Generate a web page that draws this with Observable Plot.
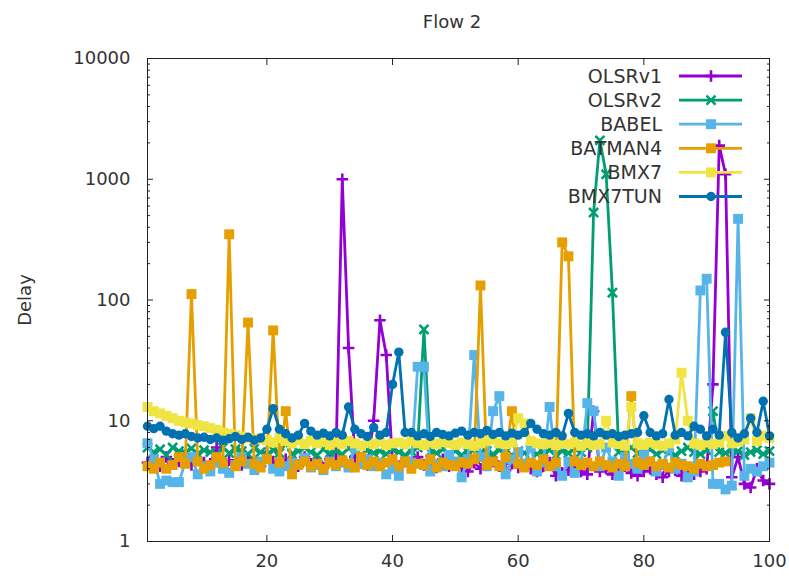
<!DOCTYPE html>
<html>
<head>
<meta charset="utf-8">
<script src="https://cdn.jsdelivr.net/npm/d3@7"></script>
<script src="https://cdn.jsdelivr.net/npm/@observablehq/plot@0.6"></script>
<style>
  body { margin: 0; background: #fff; }
  #chart svg { display: block; font-family: "DejaVu Sans", sans-serif; }
</style>
</head>
<body>
<div id="chart"></div>
<script>
const title = "Flow 2";
const yLabel = "Delay";
const seriesNames = ["OLSRv1", "OLSRv2", "BABEL", "BATMAN4", "BMX7", "BMX7TUN"];
const seriesColors = ["#9400d3", "#009e73", "#56b4e9", "#e69f00", "#f0e442", "#0072b2"];
const seriesSymbols = ["plus", "times", "square", "square", "square", "circle"];
const yTicks = [1, 10, 100, 1000, 10000];
const xTicks = [20, 40, 60, 80, 100];

const olsrv1 = [
  4.5,4.8,4.2,5,4.4,4.6,5.2,4.3,4.8,4.5,
  4.4,6,4.2,4.7,4.5,4.3,4.9,4.6,4.2,5.5,
  4.6,4.3,4.8,4.5,4.2,5,4.4,4.6,4.1,4.8,
  5,1000,40,5,4.5,4.3,10,68,35,4.5,
  4.2,4.6,4.4,5,4.3,4.5,4.1,4.8,4.2,4.4,
  4.1,3.8,4.5,4,4.3,4.6,4.2,3.9,4.4,4.1,
  4.3,4,3.8,4.2,4.5,3.5,3.7,3.9,4.1,3.8,
  3.6,12,3.8,4,3.6,3.9,4.2,3.7,3.5,3.8,
  4,3.6,3.4,3.8,3.9,3.5,3.7,3.6,3.8,4,
  20,1900,1100,3.4,5,3,2.8,4,3.2,3
];
const olsrv2 = [
  6,5.5,5.8,5.2,6,5.6,5.4,5.9,5.3,5.7,
  5.5,5.2,6,5.4,5.8,5.6,5.3,5.9,5.5,5.2,
  5.7,5.4,6.5,5.3,5.6,6,5.5,5.2,5.8,5.4,
  5.6,5.3,5.9,5.5,5.2,5.7,5.4,5.6,5.3,5.8,
  5.5,5.2,5.6,6,57,5.5,5.4,5.8,5.3,5.6,
  5.2,5.5,5.8,5.4,5.6,5.3,5.7,5.5,5.2,5.6,
  5.4,5.8,5.3,5.5,5.7,5.2,5.6,5.4,5.9,5.5,
  6,530,2100,1100,115,5.5,5.8,6,5.4,5.6,
  5.8,5.3,5.7,5.4,5.2,5.6,6,5.5,5.3,5.7,
  12,5.5,5.4,5.8,5.6,5.2,5.5,5.7,5.3,5.6
];
const babel = [
  6.5,4.8,3,3.2,3.1,3.1,4.5,5,3.6,4.2,
  3.8,4.5,4,3.7,4.3,5,4.4,3.9,4.6,4.8,
  4,3.8,4.2,4.5,4.4,4.9,4.1,4.3,3.9,4.6,
  4.2,4.5,4.1,6,4.4,4.8,4.2,4.5,3.6,4,
  3.5,4.6,4.5,28,28,3.8,4.4,4.2,5.2,4.6,
  3.4,4.8,35,5,4.2,12,16,3.6,4.8,5.5,
  4.4,6,3.8,4.5,13,4.2,3.5,4.6,3.7,4.4,
  14,12,4.2,6,4.6,3.5,5,4.4,4,5.2,
  4.6,3.8,4.3,6,4,4.4,3.4,3.8,120,150,
  3,3,2.7,2.9,470,3.5,4,3.8,4.2,4.5
];
const batman4 = [
  4.2,4,4.5,4,4.3,5,4.4,112,4.6,4,
  4.3,5,4.5,350,4.2,4.6,65,4.4,4.1,4.8,
  56,4.5,12,3.6,4.3,4.6,4.2,4.4,4,4.5,
  4.3,4.7,4.4,4.1,5,4.3,4.6,4.2,4.5,4.8,
  4.2,4.6,4,4.4,4.3,4.8,4.1,4.5,4.3,4.2,
  4.5,4.4,4.8,132,4.3,4.6,4.2,5,12,4.4,
  4.1,4.5,4.3,4.8,4.2,4.5,300,230,4.6,4.3,
  4.5,4.2,4.6,4.3,4.1,4.4,4.2,16,4.5,4.3,
  4.6,4.2,4.4,4.1,4.5,4.3,4.2,4,4.4,4.2,
  4.3,4.5,4.6
];
const bmx7 = [
  13,12,11.5,11,10.5,10,9.7,9.5,9.2,9,
  8.7,8.4,8,7.8,7.6,7.4,7.2,7,7.1,6.9,
  6.6,7.2,6.8,6.5,6.9,6.4,6.8,6.5,6.7,6.3,
  6.6,6.4,6.8,6.5,6.2,6.6,6.4,6.7,6.3,6.5,
  6.6,6.4,6.8,6.5,6.3,6.6,6.4,6.7,6.5,6.3,
  6.6,6.4,6.2,6.5,6.8,7,6.5,6.4,6.6,10.5,
  9.5,6.8,6.5,6.4,6.6,6.3,6.5,6.4,6.6,6.2,
  6.5,6.3,6.4,10,6.6,6.4,6.2,13,6.5,6.3,
  6.6,6.4,6.2,6.5,7,25,10,6.5,6.3,6.6,
  6.4,6.6,7.5,6.5,6.7,7,10.5,6.8,7.5,7.2
];
const bmx7tun = [
  9,8.6,9,8.2,7.8,7.6,7.8,7.4,7.2,7.3,
  7,7.2,6.9,7.1,7.4,7,7.3,6.9,7.2,8.5,
  12.6,8.5,7.8,7.2,7.6,9.5,8.2,7.6,7.9,7.5,
  8,7.6,13,8.5,7.8,7.4,8.8,7.6,8,20,
  37,8,8,7.5,7.8,7.4,8,7.7,7.5,7.9,
  8.2,7.6,8,7.8,8.3,7.7,8,7.5,7.9,7.6,
  8,9.5,8.5,7.8,7.6,8,7.5,11.5,8,7.6,
  7.8,7.5,8,7.6,7.8,7.4,7.6,7.8,8,11,
  8,7.5,7.8,15,7.6,8,7.5,9,8.5,7.5,
  8.5,7.6,54,8,7.2,7.8,10.5,8,14.5,7.5
];
const seriesValues = [olsrv1, olsrv2, babel, batman4, bmx7, bmx7tun];

const rows = [];
seriesValues.forEach((vals, si) => {
  vals.forEach((v, i) => rows.push({series: seriesNames[si], x: i + 1, y: v}));
});

const minorTicks = [];
for (let d = 1; d < 10000; d *= 10) for (let k = 2; k <= 9; k++) minorTicks.push(d * k);

const symR = {plus: 3.8, times: 4.2, square: 5.6, circle: 4.7};
const strokeSyms = new Set(["plus", "times"]);

const marks = [];
seriesNames.forEach((name, si) => {
  const data = rows.filter(r => r.series === name);
  const col = seriesColors[si];
  const sym = seriesSymbols[si];
  marks.push(Plot.line(data, {x: "x", y: "y", stroke: col, strokeWidth: 2.8, strokeLinejoin: "miter"}));
  marks.push(Plot.dot(data, strokeSyms.has(sym)
    ? {x: "x", y: "y", symbol: () => sym, r: symR[sym], stroke: col, strokeWidth: 2.6, fill: "none"}
    : {x: "x", y: "y", symbol: () => sym, r: symR[sym], fill: col, stroke: "none"}));
});

const chart = Plot.plot({
  width: 789,
  height: 578,
  marginLeft: 147,
  marginRight: 20,
  marginTop: 58,
  marginBottom: 37,
  style: {fontSize: "18px", fontFamily: "DejaVu Sans, sans-serif", color: "#333", background: "#fff"},
  x: {domain: [1, 100]},
  y: {type: "log", domain: [1, 10000]},
  symbol: {type: "identity"},
  marks: [
    ...marks,
    Plot.frame({stroke: "#222", strokeWidth: 1}),
    Plot.axisY(yTicks, {anchor: "left", tickSize: -6, tickPadding: 23, tickFormat: d => String(d), label: null, stroke: "#222"}),
    Plot.axisY(minorTicks, {anchor: "left", tickSize: -3, tickFormat: () => "", label: null, stroke: "#222"}),
    Plot.axisY(yTicks, {anchor: "right", tickSize: -6, tickFormat: () => "", label: null, stroke: "#222"}),
    Plot.axisY(minorTicks, {anchor: "right", tickSize: -3, tickFormat: () => "", label: null, stroke: "#222"}),
    Plot.axisX(xTicks, {anchor: "bottom", tickSize: -6, tickPadding: 19, tickFormat: d => String(d), label: null, stroke: "#222"}),
    Plot.axisX(xTicks.slice(0, -1), {anchor: "top", tickSize: -6, tickFormat: () => "", label: null, stroke: "#222"})
  ]
});

const svg = d3.select(chart);
svg.append("text")
  .attr("x", 452).attr("y", 22).attr("text-anchor", "middle").attr("dy", "0.35em")
  .attr("fill", "#333").style("font-size", "18px").text(title);
svg.append("text")
  .attr("transform", "translate(25,300) rotate(-90)").attr("text-anchor", "middle").attr("dy", "0.35em")
  .attr("fill", "#333").style("font-size", "18px").text(yLabel);

const leg = svg.append("g");
seriesNames.forEach((name, i) => {
  const yy = 76 + i * 24.1;
  const col = seriesColors[i];
  const sym = seriesSymbols[i];
  leg.append("text").attr("x", 662).attr("y", yy).attr("dy", "0.35em").attr("text-anchor", "end")
    .attr("fill", "#333").style("font-size", "19px").text(name);
  leg.append("line").attr("x1", 679).attr("x2", 742).attr("y1", yy).attr("y2", yy)
    .attr("stroke", col).attr("stroke-width", 2.8);
  const symType = {plus: d3.symbolPlus, times: d3.symbolTimes, square: d3.symbolSquare, circle: d3.symbolCircle}[sym];
  const r = symR[sym];
  const p = leg.append("path").attr("transform", `translate(711,${yy})`)
    .attr("d", d3.symbol(symType, r * r * Math.PI)());
  if (strokeSyms.has(sym)) p.attr("stroke", col).attr("stroke-width", 2.6).attr("fill", "none");
  else p.attr("fill", col);
});

document.getElementById("chart").appendChild(chart);
</script>
</body>
</html>
